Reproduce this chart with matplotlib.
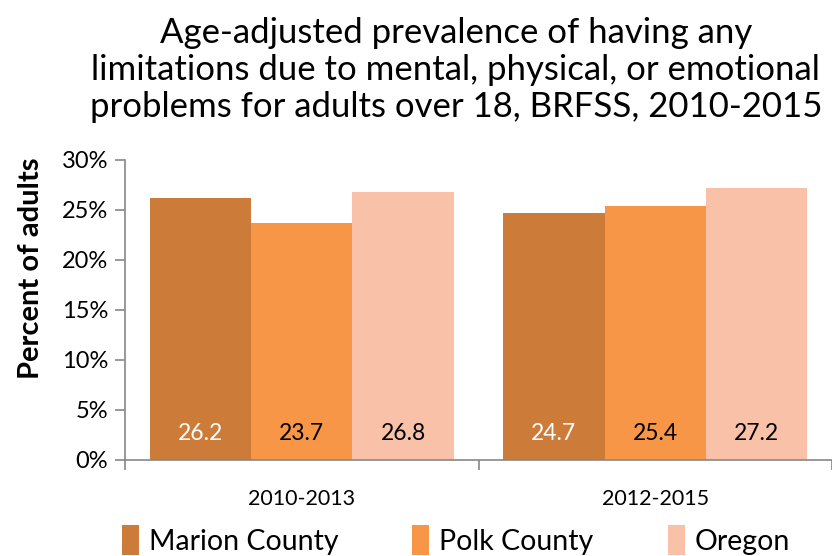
import matplotlib.pyplot as plt
import numpy as np

plt.rcParams['font.family'] = ['Lato', 'DejaVu Sans']

periods = ['2010-2013', '2012-2015']
series = ['Marion County', 'Polk County', 'Oregon']
marion = [26.2, 24.7]
polk = [23.7, 25.4]
oregon = [26.8, 27.2]

colors = ['#CC7B38', '#F79646', '#F9C2A8']
label_colors = ['white', 'black', 'black']

fig = plt.figure(figsize=(8.32, 5.56), dpi=100)
ax = fig.add_axes([125 / 832, 96 / 556, 707 / 832, 300 / 556])

x = np.arange(len(periods))
w = 0.287
for i, (vals, name) in enumerate(zip([marion, polk, oregon], series)):
    pos = x + (i - 1) * w
    ax.bar(pos, vals, width=w, color=colors[i], label=name)
    for p, v in zip(pos, vals):
        ax.text(p, 2.6, f'{v:.1f}', ha='center', va='center',
                fontsize=16.5, color=label_colors[i])

ax.set_xlim(-0.5, -0.5 + 707 / 359)
ax.set_ylim(0, 30)
ax.set_yticks(np.arange(0, 31, 5))
ax.set_yticklabels([f'{t}%' for t in range(0, 31, 5)], fontsize=17)

ax.set_xticks([-0.5, 0.5, 1.5])
ax.set_xticklabels([])
ax.set_xticks(x, minor=True)
ax.set_xticklabels(periods, minor=True, fontsize=15.5)
ax.tick_params(axis='x', which='major', length=7, color='#888888', width=1.2)
ax.tick_params(axis='x', which='minor', length=0, pad=21)
ax.tick_params(axis='y', length=7, color='#888888', width=1.2, pad=5)

for s in ['top', 'right']:
    ax.spines[s].set_visible(False)
for s in ['left', 'bottom']:
    ax.spines[s].set_color('#888888')
    ax.spines[s].set_linewidth(1.2)

ax.set_ylabel('Percent of adults', fontsize=21, fontweight='bold')
ax.yaxis.set_label_coords(-0.114, 0.64)

fig.text(0.548, 1 - 70 / 556, 'Age-adjusted prevalence of having any\n'
         'limitations due to mental, physical, or emotional\n'
         'problems for adults over 18, BRFSS, 2010-2015',
         ha='center', va='center', fontsize=25, linespacing=1.2)

fig.legend(loc='center', bbox_to_anchor=(0.548, 1 - 540 / 556), ncol=3,
           frameon=False, fontsize=20.5, handlelength=0.6, handleheight=1.2,
           handletextpad=0.35, columnspacing=2.6)

fig.savefig('out.png', dpi=100)
